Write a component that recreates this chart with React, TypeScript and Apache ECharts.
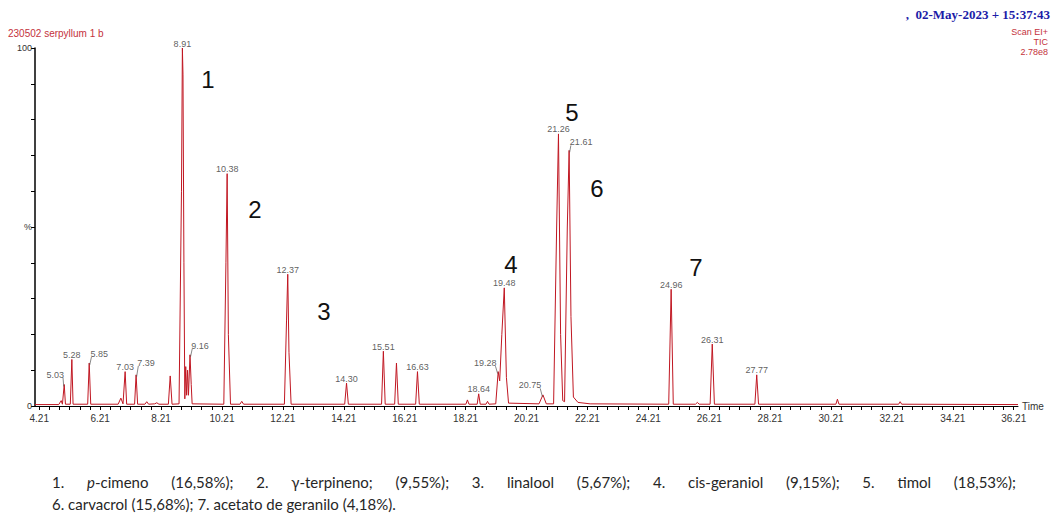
import React, { useEffect, useRef } from "react";
import * as echarts from "echarts";

// ---- data ----
const xTickLabels = [4.21, 6.21, 8.21, 10.21, 12.21, 14.21, 16.21, 18.21, 20.21, 22.21, 24.21, 26.21, 28.21, 30.21, 32.21, 34.21, 36.21];
const yTickLabels: Record<number, string> = { 0: "0", 50: "%", 100: "100" };

// chromatogram trace: [time (min), relative intensity (%)]
const trace: [number, number][] = [
  [4.07, 0.4],
  [4.85, 0.4], [4.93, 1.5], [4.97, 0.5],
  [4.99, 0.5], [5.03, 6], [5.07, 0.5],
  [5.23, 0.5], [5.28, 13], [5.32, 0.5],
  [5.8, 0.5], [5.85, 12], [5.9, 0.5],
  [6.8, 0.5], [6.89, 2.2], [6.96, 0.6],
  [6.98, 0.6], [7.03, 9.6], [7.08, 0.5],
  [7.34, 0.5], [7.39, 8.7], [7.44, 0.5],
  [7.68, 0.5], [7.74, 1.2], [7.8, 0.5],
  [8.0, 0.6], [8.07, 0.9], [8.14, 0.5],
  [8.45, 0.5], [8.51, 8.4], [8.57, 0.5],
  [8.8, 0.6], [8.88, 60], [8.91, 100], [8.93, 92.5], [8.96, 40], [8.99, 2],
  [9.02, 11], [9.05, 3], [9.08, 10], [9.11, 3], [9.16, 14.3], [9.2, 6], [9.23, 0.6],
  [10.27, 0.5], [10.34, 40], [10.38, 64.9], [10.42, 20], [10.49, 0.5],
  [10.8, 0.5], [10.86, 1.3], [10.92, 0.5],
  [12.26, 0.5], [12.33, 24], [12.37, 36.8], [12.41, 15], [12.48, 0.5],
  [14.24, 0.5], [14.3, 6.4], [14.36, 0.5],
  [15.45, 0.5], [15.51, 15.3], [15.57, 0.5],
  [15.88, 0.5], [15.94, 12], [16.0, 0.5],
  [16.57, 0.5], [16.63, 9.6], [16.69, 0.5],
  [18.22, 0.5], [18.27, 1.7], [18.32, 0.5],
  [18.59, 0.5], [18.64, 3.4], [18.69, 0.5],
  [18.88, 0.5], [18.93, 1.3], [18.98, 0.5],
  [19.2, 0.6], [19.28, 9.6], [19.33, 7], [19.4, 20], [19.48, 33], [19.55, 8], [19.62, 0.8],
  [20.62, 0.6], [20.75, 3.1], [20.86, 0.6],
  [21.1, 0.6], [21.2, 50], [21.26, 76], [21.33, 20], [21.4, 1.5], [21.46, 1.2], [21.55, 50], [21.61, 71.4], [21.67, 25], [21.75, 2.5], [21.9, 1.0], [22.3, 0.6],
  [24.88, 0.5], [24.96, 32.6], [25.03, 0.5],
  [25.76, 0.5], [25.82, 1.0], [25.88, 0.5],
  [26.24, 0.5], [26.31, 17.3], [26.38, 0.5],
  [27.71, 0.5], [27.77, 8.7], [27.83, 0.5],
  [30.37, 0.5], [30.42, 1.9], [30.47, 0.5],
  [32.43, 0.5], [32.48, 1.2], [32.53, 0.5],
  [36.35, 0.4],
];

// labelled peaks: [label, time, apex]
const peakLabels: [string, number, number][] = [
  ["5.28", 5.28, 13], ["7.03", 7.03, 9.6], ["8.91", 8.91, 100], ["10.38", 10.38, 64.9],
  ["12.37", 12.37, 36.8], ["14.30", 14.3, 6.4], ["15.51", 15.51, 15.3], ["16.63", 16.63, 9.6],
  ["18.64", 18.64, 3.4], ["19.48", 19.48, 33], ["21.26", 21.26, 76], ["24.96", 24.96, 32.6],
  ["26.31", 26.31, 17.3], ["27.77", 27.77, 8.7],
];
// labelled peaks whose labels are set aside with a leader line
const leaderLabels: [string, number, number][] = [
  ["5.03", 5.03, 6], ["5.85", 5.85, 12], ["7.39", 7.39, 8.7], ["9.16", 9.16, 14.3],
  ["19.28", 19.28, 9.6], ["20.75", 20.75, 3.1], ["21.61", 21.61, 71.4],
];
// label centre offset from the apex, in pixels
const leaderOffsets: [number, number][] = [
  [-9, -11], [10, -10], [10, -13], [10, -10], [-13, -9.5], [-13, -10.5], [12, -9],
];

const compoundNumbers = ["1", "2", "3", "4", "5", "6", "7"];
const footerLines = [
  "1. {i|p}-cimeno (16,58%); 2. γ-terpineno; (9,55%); 3. linalool (5,67%); 4. cis-geraniol (9,15%); 5. timol (18,53%);",
  "6. carvacrol (15,68%); 7. acetato de geranilo (4,18%).",
];

const sampleName = "230502 serpyllum 1 b";
const dateText = ",  02-May-2023 + 15:37:43";
const scanInfo = ["Scan EI+", "TIC", "2.78e8"];

export default function App() {
  const ref = useRef<HTMLDivElement>(null);
  useEffect(() => {
    if (!ref.current) return;
    const chart = echarts.init(ref.current, null, { renderer: "svg" });
    const ticks: number[] = [];
    for (let i = 0; i <= 96; i++) ticks.push(+(4.21 + i / 3).toFixed(4));

    const red = "#c4323c";
    const labelStyle = {
      show: true, position: "top", distance: 0, formatter: "{b}",
      fontSize: 9, color: "#333", fontFamily: "Liberation Sans",
    };

    chart.setOption({
      animation: false,
      backgroundColor: "#ffffff",
      grid: { left: 35, right: 35, top: 48, bottom: 107, containLabel: false },
      xAxis: {
        type: "value", min: 4.07, max: 36.35,
        name: "Time", nameLocation: "end", nameGap: 4,
        nameTextStyle: { fontSize: 10, color: "#333", fontFamily: "Liberation Sans", verticalAlign: "middle" },
        axisLine: { show: true, lineStyle: { color: "#000", width: 1 } },
        axisTick: { show: true, length: 4, customValues: ticks, lineStyle: { color: "#000", width: 1 } },
        axisLabel: {
          customValues: xTickLabels, fontSize: 10, color: "#333", fontFamily: "Liberation Sans", margin: 7,
          formatter: (v: number) => v.toFixed(2),
        },
        splitLine: { show: false },
      },
      yAxis: {
        type: "value", min: 0, max: 100, interval: 10,
        axisLine: { show: true, lineStyle: { color: "#000", width: 1.5 } },
        axisTick: { show: true, length: 4, lineStyle: { color: "#000" } },
        axisLabel: {
          fontSize: 9, color: "#333", fontFamily: "Liberation Sans", margin: 3,
          formatter: (v: number) => yTickLabels[v] ?? "",
        },
        splitLine: { show: false },
      },
      series: [
        {
          type: "line", data: trace, showSymbol: false, z: 3,
          lineStyle: { color: "#c01722", width: 1 },
        },
        {
          type: "scatter", symbolSize: 0, z: 4,
          data: peakLabels.map(([n, t, h]) => ({ name: n, value: [t, h] })),
          label: labelStyle,
        },
        {
          type: "scatter", symbolSize: 0, z: 4,
          data: leaderLabels.map(([n, t, h], i) => ({
            name: n, value: [t, h],
            label: { offset: [leaderOffsets[i][0], leaderOffsets[i][1] + 5.5] },
          })),
          label: labelStyle,
        },
      ],
    });

    const ctx = document.createElement("canvas").getContext("2d")!;
    const measure = (t: string, font: string) => { ctx.font = font; return ctx.measureText(t).width; };

    const graphic: any[] = [
      { type: "text", left: 8, top: 28, style: { text: sampleName, fill: red, font: "10px 'Liberation Sans'" } },
      { type: "text", right: 3, top: 8, style: { text: dateText, fill: "#1c1ca8", font: "bold 13px 'Liberation Serif'" } },
      ...scanInfo.map((t, i) => ({
        type: "text", right: 5, top: 27 + i * 10,
        style: { text: t, fill: red, font: "9px 'Liberation Sans'" },
      })),
    ];

    // compound numbers, placed near their peaks
    const numPos: [number, number][] = [
      [208, 79], [255, 209], [324, 311], [511, 264], [572, 112], [597, 188], [696, 267],
    ];
    compoundNumbers.forEach((n, i) => graphic.push({
      type: "text", x: numPos[i][0], y: numPos[i][1],
      style: { text: n, fill: "#111", font: "24px 'Liberation Sans'", align: "center", verticalAlign: "middle" },
    }));

    // leader lines from the set-aside labels to their peaks
    const labelFont = "9px 'Liberation Sans'";
    leaderLabels.forEach(([n, t, h], i) => {
      const p = chart.convertToPixel({ gridIndex: 0 }, [t, h]) as number[];
      const [dx, dy] = leaderOffsets[i];
      const cx = p[0] + dx, cy = p[1] + dy;
      const w = measure(n, labelFont);
      const cornerX = dx > 0 ? cx - w / 2 + 1 : cx + w / 2 - 1;
      graphic.push({
        type: "line", z: 10,
        shape: { x1: cornerX, y1: cy + 4, x2: p[0] + (dx > 0 ? 0.5 : -0.5), y2: p[1] + 2 },
        style: { stroke: "#555", lineWidth: 0.7 },
      });
    });

    // footer: first line justified to the full width, last line natural
    const fam = "Lato";
    const fs = 15;
    const fontN = `${fs}px ${fam}`;
    const fontI = `italic ${fs}px ${fam}`;
    const color = "#262626";
    const x0 = 52, x1 = 1016, yL1 = 482, yL2 = 504;

    const words = footerLines[0].split(" ").map((w) => {
      const segs: { t: string; it: boolean }[] = [];
      const re = /\{i\|([^}]*)\}/g;
      let last = 0; let m: RegExpExecArray | null;
      while ((m = re.exec(w))) {
        if (m.index > last) segs.push({ t: w.slice(last, m.index), it: false });
        segs.push({ t: m[1], it: true });
        last = m.index + m[0].length;
      }
      if (last < w.length) segs.push({ t: w.slice(last), it: false });
      return segs;
    });
    const wordW = words.map((segs) => segs.reduce((s, g) => s + measure(g.t, g.it ? fontI : fontN), 0));
    const total = wordW.reduce((a, b) => a + b, 0);
    const gap = (x1 - x0 - total) / (words.length - 1);
    let cx = x0;
    words.forEach((segs, wi) => {
      let sx = cx;
      segs.forEach((g) => {
        graphic.push({
          type: "text", x: sx, y: yL1,
          style: { text: g.t, fill: color, font: g.it ? fontI : fontN, verticalAlign: "middle" },
        });
        sx += measure(g.t, g.it ? fontI : fontN);
      });
      cx += wordW[wi] + gap;
    });
    graphic.push({
      type: "text", x: x0, y: yL2,
      style: { text: footerLines[1], fill: color, font: fontN, verticalAlign: "middle" },
    });

    chart.setOption({ graphic });
    return () => chart.dispose();
  }, []);
  return (
    <div
      ref={ref}
      style={{ position: "fixed", left: 0, top: 0, width: 1053, height: 513, background: "#fff" }}
    />
  );
}
